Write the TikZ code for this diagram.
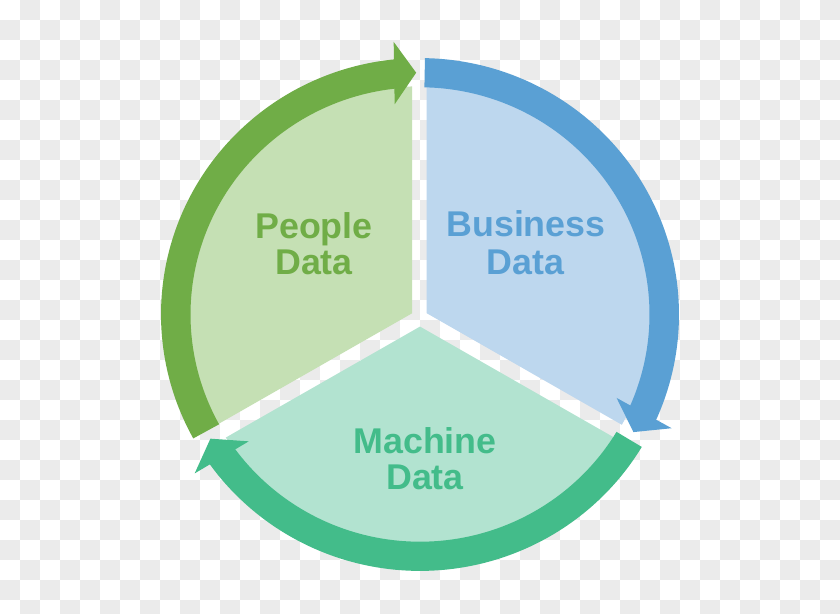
\documentclass[tikz,border=0pt]{standalone}
\usepackage{fontspec}
\setmainfont{Liberation Sans}
\definecolor{peopleDark}{HTML}{70AD47}
\definecolor{peopleLight}{HTML}{C5E0B4}
\definecolor{bizDark}{HTML}{5AA0D4}
\definecolor{bizLight}{HTML}{BDD7EE}
\definecolor{machDark}{HTML}{43BC8A}
\definecolor{machLight}{HTML}{B2E3D0}
\definecolor{cellgray}{HTML}{EBEBEB}
\tikzset{
  label text/.style={font=\bfseries\fontsize{35.8}{40}\selectfont, anchor=base, inner sep=0pt},
}
\begin{document}
\begin{tikzpicture}[x=1pt,y=1pt]
\useasboundingbox (0,0) rectangle (840,613);
\clip (0,0) rectangle (840,613);
% checkerboard background
\fill[white] (0,0) rectangle (840,613);
\foreach \i in {0,...,41}{
  \foreach \j in {0,...,30}{
    \pgfmathtruncatemacro\cellparity{mod(\i+\j,2)}
    \ifnum\cellparity=1
      \fill[cellgray] (20*\i,593-20*\j) rectangle ++(20,20);
    \fi
  }
}
\begin{scope}[shift={(420,298.5)}, yscale=0.99]
  % sectors
  \coordinate (pv) at (-7.8,1.3);
  \coordinate (bv) at (6.7,1.3);
  \coordinate (mv) at (0,-12.2);
  \begin{scope}
    \clip (pv) -- +(90:400) -- +(150:400) -- +(210:400) -- cycle;
    \fill[peopleLight] (0,0) circle[radius=230.5pt];
  \end{scope}
  \begin{scope}
    \clip (bv) -- +(90:400) -- +(30:400) -- +(-30:400) -- cycle;
    \fill[bizLight] (0,0) circle[radius=230.5pt];
  \end{scope}
  \begin{scope}
    \clip (mv) -- +(-30:400) -- +(-90:400) -- +(-150:400) -- cycle;
    \fill[machLight] (0,0) circle[radius=230.5pt];
  \end{scope}
  % circular arrows
  \foreach \a/\col in {88.9/bizDark, -31.1/machDark, 208.9/peopleDark}{
    \pgfmathsetmacro\b{\a-113.5}
    \pgfmathsetmacro\t{\a-118}
    \fill[\col] (\a:259) arc[start angle=\a, end angle=\b, radius=259pt]
      -- (\b:229.5) arc[start angle=\b, end angle=\a, radius=229.5pt] -- cycle;
    \begin{scope}[rotate=\t]
      \fill[\col] (244.25,0) -- (275.75,22) -- (212.75,22) -- cycle;
    \end{scope}
  }
\end{scope}
% labels
\node[label text, text=peopleDark] (people1) at (314,374.7) {People};
\node[label text, text=peopleDark] (people2) at (314,338) {Data};
\node[label text, text=bizDark] (biz1) at (526,376.3) {Business};
\node[label text, text=bizDark] (biz2) at (525.5,338) {Data};
\node[label text, text=machDark] (mach1) at (425,159.7) {Machine};
\node[label text, text=machDark] (mach2) at (425,123) {Data};
\end{tikzpicture}
\end{document}
